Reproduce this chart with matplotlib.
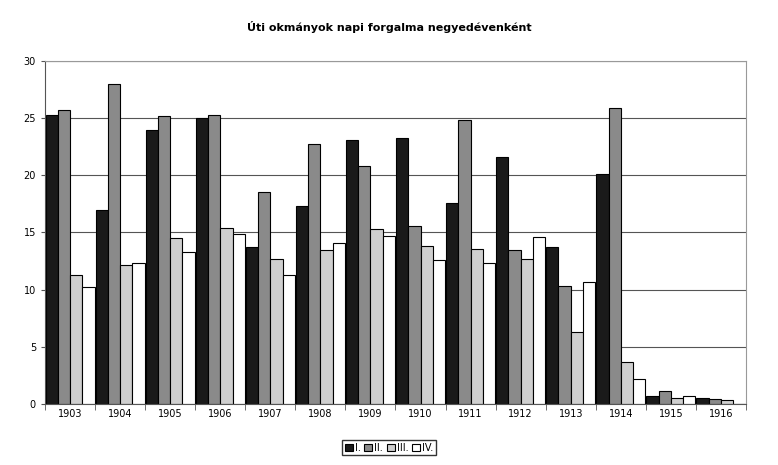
import numpy as np
import matplotlib.pyplot as plt

years = ['1903', '1904', '1905', '1906', '1907', '1908', '1909',
         '1910', '1911', '1912', '1913', '1914', '1915', '1916']
q1 = [25.3, 17.0, 24.0, 25.0, 13.7, 17.3, 23.1, 23.3, 17.6, 21.6, 13.7, 20.1, 0.7, 0.5]
q2 = [25.7, 28.0, 25.2, 25.3, 18.5, 22.7, 20.8, 15.6, 24.8, 13.5, 10.3, 25.9, 1.1, 0.4]
q3 = [11.3, 12.2, 14.5, 15.4, 12.7, 13.5, 15.3, 13.8, 13.6, 12.7, 6.3, 3.7, 0.5, 0.35]
q4 = [10.2, 12.3, 13.3, 14.9, 11.3, 14.1, 14.7, 12.6, 12.3, 14.6, 10.7, 2.2, 0.7, 0.0]
labels = ['I.', 'II.', 'III.', 'IV.']
colors = ['#1a1a1a', '#8a8a8a', '#cfcfcf', '#ffffff']

fig = plt.figure(figsize=(7.78, 4.65), dpi=100)
ax = fig.add_axes([45/778, 61/465, 701/778, 343/465])
x = np.arange(len(years))
w = 0.245
for i, vals in enumerate([q1, q2, q3, q4]):
    ax.bar(x - 1.5*w + i*w, vals, w, color=colors[i], edgecolor='black',
           linewidth=0.8, label=labels[i], zorder=2)

ax.set_xlim(-0.5, len(years) - 0.5)
ax.set_ylim(0, 30)
ax.set_yticks(range(0, 31, 5))
ax.set_xticks(x)
ax.set_xticklabels(years)
ax.set_xticks(np.arange(-0.5, len(years), 1), minor=True)
ax.tick_params(axis='x', which='major', length=0, labelsize=7)
ax.tick_params(axis='x', which='minor', length=4, color='#555555')
ax.tick_params(axis='y', labelsize=7, length=3, color='#555555')
ax.yaxis.grid(True, color='#555555', linewidth=0.8, zorder=0)
for s in ['top', 'right']:
    ax.spines[s].set_color('#999999')
for s in ['left', 'bottom']:
    ax.spines[s].set_color('#555555')

fig.suptitle('Úti okmányok napi forgalma negyedévenként', y=0.955,
             fontsize=8, fontweight='bold')
fig.legend(loc='lower center', bbox_to_anchor=(0.5, 0.01), ncol=4,
           fontsize=7, frameon=True, fancybox=False, edgecolor='black',
           handlelength=0.8, handletextpad=0.2, columnspacing=0.4,
           borderpad=0.3)
fig.savefig('out.png', dpi=100)
